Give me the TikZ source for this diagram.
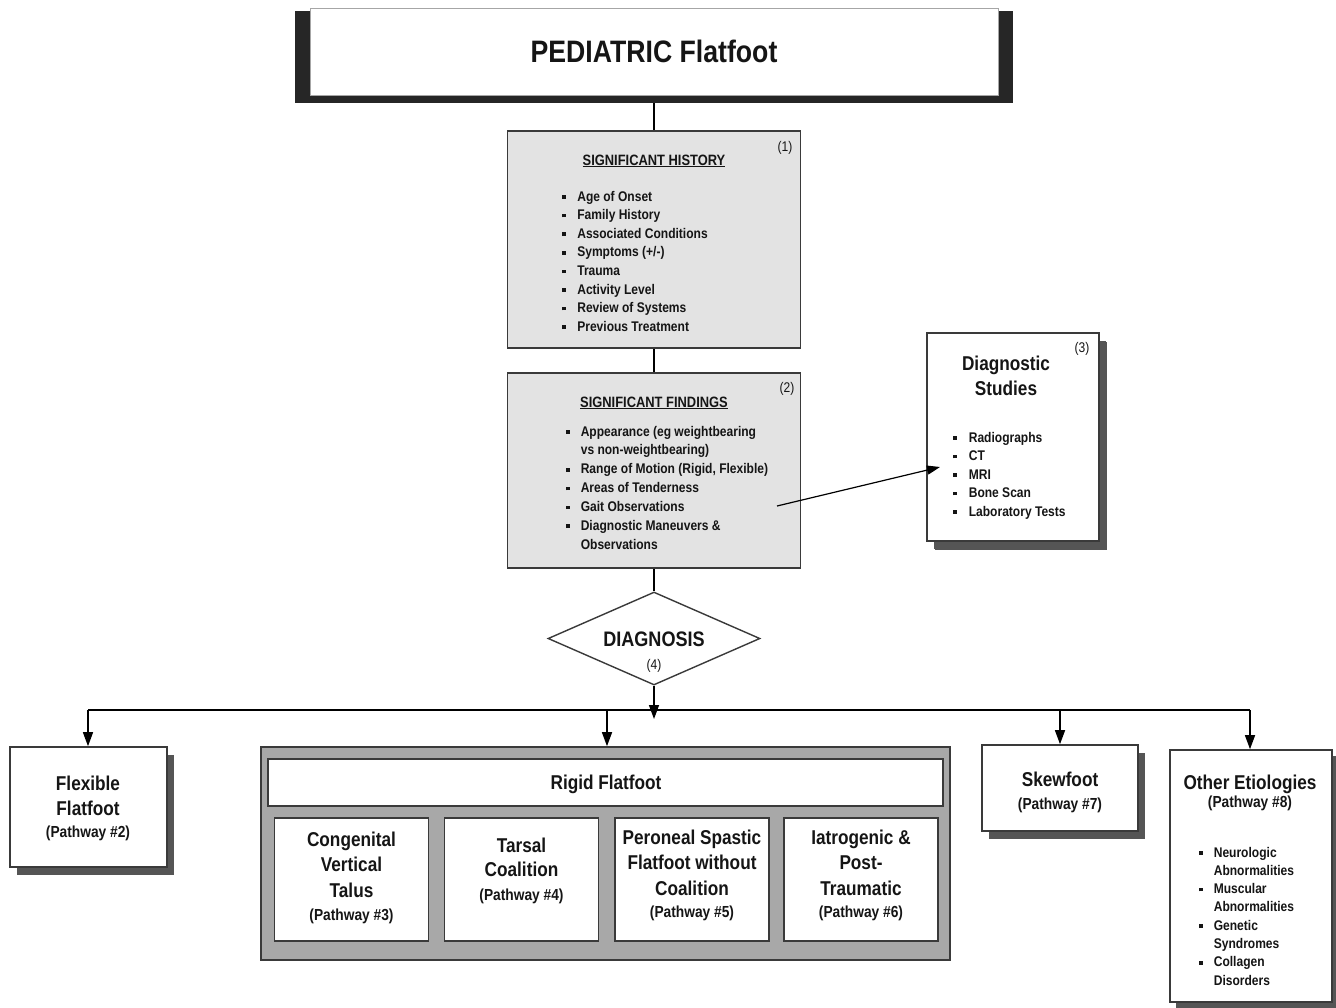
\documentclass[tikz,border=0pt]{standalone}
\usepackage{fontspec}
\setmainfont{Liberation Sans}[FakeStretch=0.86]
\usetikzlibrary{arrows.meta,shapes.geometric,shadows}
\definecolor{bordc}{HTML}{3A3A3A}
\definecolor{shadc}{HTML}{555555}
\definecolor{lightfill}{HTML}{E3E3E3}
\definecolor{midfill}{HTML}{A8A8A8}
\definecolor{txt}{HTML}{151515}
\newcommand\bul{\rule[2.2pt]{3.6pt}{3.6pt}}
\newcommand\fs[2]{\fontsize{#1}{#2}\selectfont}
\newcommand\pw[1]{{\fontsize{16}{19}\selectfont #1}}
\begin{document}
\begin{tikzpicture}[x=1pt,y=-1pt,
  box/.style={draw=bordc, line width=1.6pt, fill=white, inner sep=0pt, rectangle},
  shbox/.style={box, drop shadow={shadow xshift=7pt, shadow yshift=-8pt, fill=shadc, opacity=1}},
  graybox/.style={box, fill=lightfill},
  txtnode/.style={inner sep=0pt, text=txt, font=\bfseries},
  numnode/.style={inner sep=0pt, text=txt, anchor=base, font=\fs{14}{16}},
  conn/.style={draw=black, line width=1.4pt},
  arr/.style={conn, -{Triangle[length=14pt,width=10pt]}},
  thinarr/.style={draw=black, line width=1.2pt, -{Triangle[length=13pt,width=9pt]}}
]
\useasboundingbox (0,0) rectangle (1336,1007);
\fill[white] (0,0) rectangle (1336,1007);

% title
\node[fill=black!85, draw=none, minimum width=718pt, minimum height=92pt, inner sep=0pt] (tback) at (654,57) {};
\node[fill=white, draw=gray!70, line width=1pt, minimum width=688pt, minimum height=87pt, inner sep=0pt] (title) at (654,51.5) {};
\node[txtnode, anchor=base, font=\bfseries\fs{31}{35}] (titletext) at (654,62) {PEDIATRIC Flatfoot};

% history
\node[graybox, minimum width=293pt, minimum height=217pt] (hist) at (654,239.5) {};
\node[numnode] (n1) at (785,151) {(1)};
\node[txtnode, anchor=base, font=\bfseries\fs{15}{18}] (histhead) at (654,165) {\underline{SIGNIFICANT HISTORY}};
\node[txtnode, anchor=base west, font=\bfseries\fs{14}{18.6}] (histlist) at (562,201) {\begin{tabular}[t]{@{}l@{\hspace{11.5pt}}l@{}}
\bul & Age of Onset\\
\bul & Family History\\
\bul & Associated Conditions\\
\bul & Symptoms (+/-)\\
\bul & Trauma\\
\bul & Activity Level\\
\bul & Review of Systems\\
\bul & Previous Treatment
\end{tabular}};

% findings
\node[graybox, minimum width=293pt, minimum height=195pt] (find) at (654,470.5) {};
\node[numnode] (n2) at (787,392) {(2)};
\node[txtnode, anchor=base, font=\bfseries\fs{15}{18}] (findhead) at (654,407) {\underline{SIGNIFICANT FINDINGS}};
\node[txtnode, anchor=base west, font=\bfseries\fs{14}{18.85}] (findlist) at (566,436) {\begin{tabular}[t]{@{}l@{\hspace{11pt}}l@{}}
\bul & Appearance (eg weightbearing\\
 & vs non-weightbearing)\\
\bul & Range of Motion (Rigid, Flexible)\\
\bul & Areas of Tenderness\\
\bul & Gait Observations\\
\bul & Diagnostic Maneuvers \&\\
 & Observations
\end{tabular}};

% diagnostic studies
\node[shbox, minimum width=172pt, minimum height=208pt, drop shadow={shadow xshift=8pt, shadow yshift=-9pt, fill=shadc, opacity=1}] (diag) at (1013,437) {};
\node[numnode] (n3) at (1082,352) {(3)};
\node[txtnode, anchor=base, font=\bfseries\fs{20}{25}] (diaghead) at (1006,370) {\begin{tabular}[t]{@{}c@{}}Diagnostic\\Studies\end{tabular}};
\node[txtnode, anchor=base west, font=\bfseries\fs{14}{18.5}] (diaglist) at (953,442) {\begin{tabular}[t]{@{}l@{\hspace{12pt}}l@{}}
\bul & Radiographs\\
\bul & CT\\
\bul & MRI\\
\bul & Bone Scan\\
\bul & Laboratory Tests
\end{tabular}};

% diamond
\node[diamond, draw=bordc, line width=1.4pt, fill=white, minimum width=212pt, minimum height=93pt, inner sep=0pt] (dx) at (654,638.5) {};
\node[txtnode, anchor=base, font=\bfseries\fs{21}{24}] (dxtext) at (654,646) {DIAGNOSIS};
\node[numnode] (n4) at (654,669) {(4)};

% vertical connectors
\draw[conn] (tback.south) -- (hist.north);
\draw[conn] (hist.south) -- (find.north);
\draw[conn] (find.south) -- (dx.north);

% findings -> diagnostic studies
\coordinate (fa) at (777,506);
\coordinate (da) at (940,467);
\draw[thinarr] (fa) -- (da);

% bottom boxes
\node[shbox, minimum width=157pt, minimum height=120pt] (flex) at (88.5,807) {};
\node[txtnode, anchor=base, font=\bfseries\fs{20}{25}] (flextext) at (88,790) {\begin{tabular}[t]{@{}c@{}}Flexible\\Flatfoot\\[-2.5pt]\pw{(Pathway \#2)}\end{tabular}};

\node[box, fill=midfill, minimum width=689pt, minimum height=213pt] (rigid) at (605.5,853.5) {};
\node[box, minimum width=675pt, minimum height=47pt] (rigidhead) at (605.5,782.5) {};
\node[txtnode, anchor=base, font=\bfseries\fs{20}{25}] (rigidtext) at (606,789) {Rigid Flatfoot};

\node[box, minimum width=154pt, minimum height=123pt] (cvt) at (351.5,879.5) {};
\node[box, minimum width=154pt, minimum height=123pt] (tc) at (521.5,879.5) {};
\node[box, minimum width=154pt, minimum height=123pt] (psf) at (692,879.5) {};
\node[box, minimum width=154pt, minimum height=123pt] (ipt) at (861,879.5) {};
\node[txtnode, anchor=base, font=\bfseries\fs{20}{25.5}] (cvttext) at (351.5,846) {\begin{tabular}[t]{@{}c@{}}Congenital\\Vertical\\Talus\\[-2pt]\pw{(Pathway \#3)}\end{tabular}};
\node[txtnode, anchor=base, font=\bfseries\fs{20}{24.5}] (tctext) at (521.5,852) {\begin{tabular}[t]{@{}c@{}}Tarsal\\Coalition\\[-1pt]\pw{(Pathway \#4)}\end{tabular}};
\node[txtnode, anchor=base, font=\bfseries\fs{20}{25.5}] (psftext) at (692,844) {\begin{tabular}[t]{@{}c@{}}Peroneal Spastic\\Flatfoot without\\Coalition\\[-3pt]\pw{(Pathway \#5)}\end{tabular}};
\node[txtnode, anchor=base, font=\bfseries\fs{20}{25.5}] (ipttext) at (861,844) {\begin{tabular}[t]{@{}c@{}}Iatrogenic \&\\Post-\\Traumatic\\[-3pt]\pw{(Pathway \#6)}\end{tabular}};

\node[shbox, minimum width=156pt, minimum height=86pt] (skew) at (1060,788) {};
\node[txtnode, anchor=base, font=\bfseries\fs{20}{25}] (skewtext) at (1060,786) {\begin{tabular}[t]{@{}c@{}}Skewfoot\\[-1.5pt]\pw{(Pathway \#7)}\end{tabular}};

\node[shbox, minimum width=162pt, minimum height=252pt, drop shadow={shadow xshift=6pt, shadow yshift=-6pt, fill=shadc, opacity=1}] (other) at (1251,876) {};
\node[txtnode, anchor=base, font=\bfseries\fs{20}{25}] (othertext) at (1250,789) {\begin{tabular}[t]{@{}c@{}}Other Etiologies\\[-6.5pt]\pw{(Pathway \#8)}\end{tabular}};
\node[txtnode, anchor=base west, font=\bfseries\fs{14}{18.3}] (otherlist) at (1199,857) {\begin{tabular}[t]{@{}l@{\hspace{11pt}}l@{}}
\bul & Neurologic\\
 & Abnormalities\\
\bul & Muscular\\
 & Abnormalities\\
\bul & Genetic\\
 & Syndromes\\
\bul & Collagen\\
 & Disorders
\end{tabular}};

% bus and drops
\coordinate (b1) at (88,710);
\coordinate (b2) at (607,710);
\coordinate (b3) at (1060,710);
\coordinate (b4) at (1250,710);
\coordinate (bc) at (654,719);
\draw[conn] (b1) -- (b4);
\draw[arr] (dx.south) -- (bc);
\draw[arr] (b1) -- (b1 |- flex.north);
\draw[arr] (b2) -- (b2 |- rigid.north);
\draw[arr] (b3) -- (b3 |- skew.north);
\draw[arr] (b4) -- (b4 |- other.north);
\end{tikzpicture}
\end{document}
